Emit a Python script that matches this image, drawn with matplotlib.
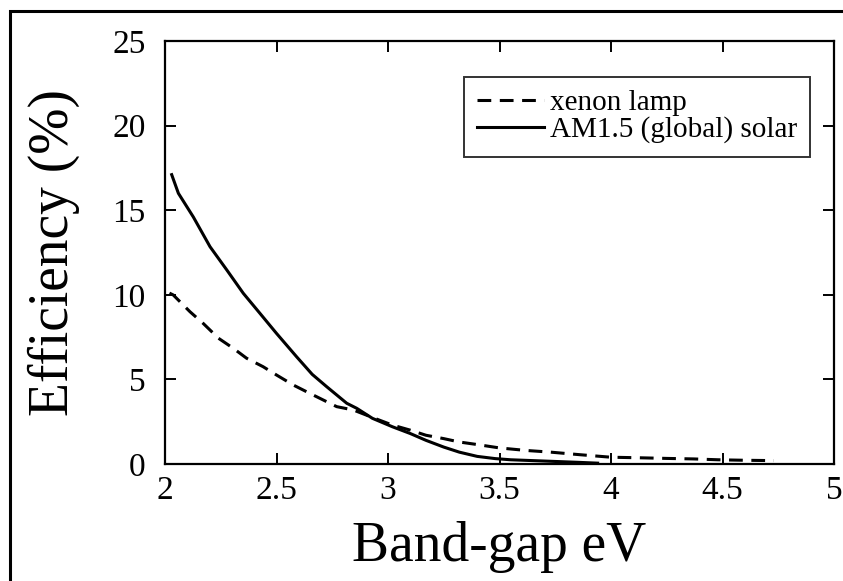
import matplotlib.pyplot as plt
from matplotlib.patches import Rectangle

plt.rcParams['font.family'] = ['Liberation Serif', 'DejaVu Serif']

# AM1.5 (global) solar spectrum
solar_eg = [2.03, 2.06, 2.127, 2.202, 2.277, 2.351, 2.426, 2.50, 2.59, 2.66,
            2.725, 2.815, 2.86, 2.93, 3.02, 3.10, 3.17, 3.25, 3.32, 3.40,
            3.48, 3.55, 3.65, 3.75, 3.85, 3.94]
solar_eff = [17.1, 16.0, 14.6, 12.84, 11.47, 10.09, 8.9, 7.72, 6.34, 5.3,
             4.57, 3.59, 3.29, 2.7, 2.2, 1.8, 1.4, 1.0, 0.7, 0.45,
             0.32, 0.25, 0.2, 0.15, 0.1, 0.05]

# xenon lamp
xenon_eg = [2.02, 2.037, 2.112, 2.172, 2.24, 2.306, 2.366, 2.44, 2.50, 2.575,
            2.635, 2.71, 2.77, 2.845, 2.93, 3.02, 3.10, 3.17, 3.25, 3.32,
            3.40, 3.50, 3.62, 3.73, 3.86, 4.00, 4.12, 4.25, 4.37, 4.48,
            4.60, 4.73]
xenon_eff = [10.1, 9.99, 9.0, 8.3, 7.43, 6.84, 6.25, 5.75, 5.26, 4.67,
             4.27, 3.78, 3.39, 3.19, 2.75, 2.3, 2.0, 1.7, 1.5, 1.3,
             1.15, 0.95, 0.8, 0.7, 0.55, 0.4, 0.37, 0.33, 0.3, 0.25,
             0.22, 0.2]

xticks = [2, 2.5, 3, 3.5, 4, 4.5, 5]
xticklabels = ['2', '2.5', '3', '3.5', '4', '4.5', '5']
yticks = [0, 5, 10, 15, 20, 25]

fig = plt.figure(figsize=(8.43, 5.81), dpi=100)
ax = fig.add_axes([165 / 843, 1 - 464 / 581, 669 / 843, 423 / 581])

# outer frame (only left and top edges visible)
fig.patches.append(Rectangle((10 / 843, -0.1), 1.2, 1 - 11 / 581 + 0.1,
                             transform=fig.transFigure, fill=False,
                             edgecolor='black', linewidth=2.2))

ax.plot(xenon_eg, xenon_eff, color='black', linewidth=2.2,
        linestyle=(0, (4.5, 2.8)), label='xenon lamp')
ax.plot(solar_eg, solar_eff, color='black', linewidth=2.2,
        label='AM1.5 (global) solar')

ax.set_xlim(2, 5)
ax.set_ylim(0, 25)
ax.set_xticks(xticks)
ax.set_xticklabels(xticklabels)
ax.set_yticks(yticks)

for s in ax.spines.values():
    s.set_linewidth(1.6)
ax.tick_params(direction='in', length=8, width=1.4, top=True, right=True,
               labelsize=24, colors='black')
ax.tick_params(axis='x', pad=8)
ax.tick_params(axis='y', pad=14)

ax.set_xlabel('Band-gap eV', fontsize=40, labelpad=11)
ax.set_ylabel('Efficiency (%)', fontsize=40, labelpad=23)

leg = ax.legend(loc='upper right', bbox_to_anchor=(0.964, 0.915),
                borderaxespad=0, fontsize=21, frameon=True, fancybox=False,
                handlelength=2.3, handletextpad=0.2, labelspacing=0.0,
                borderpad=0.45)
leg.get_frame().set_edgecolor('black')
leg.get_frame().set_linewidth(1.4)

fig.savefig('out.png', dpi=100)
